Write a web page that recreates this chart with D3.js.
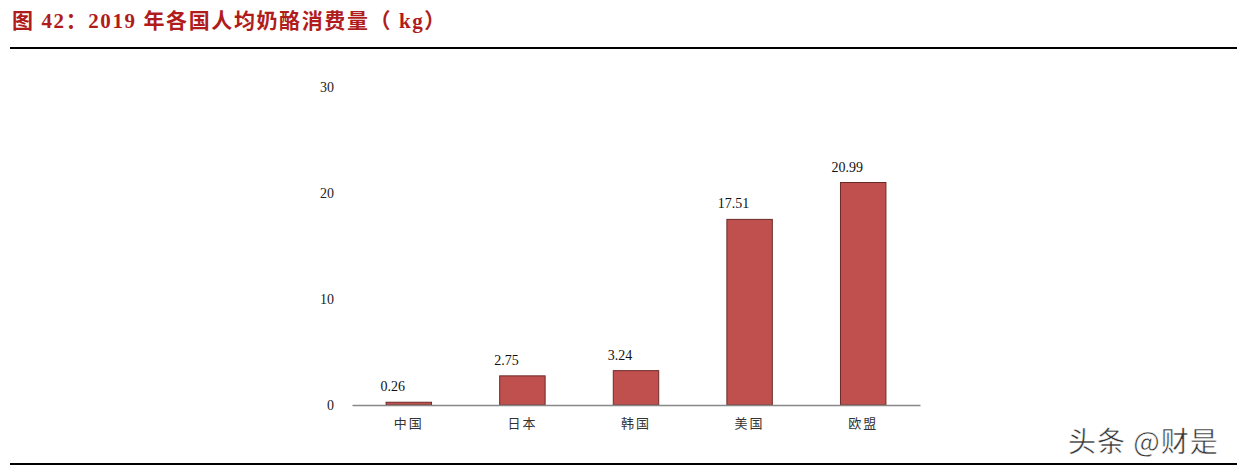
<!DOCTYPE html>
<html><head><meta charset="utf-8">
<script src="https://cdn.jsdelivr.net/npm/d3@7"></script>
<style>
body{margin:0;background:#fff;}
svg{display:block;}
</style></head>
<body>
<svg id="c" width="1247" height="470"></svg>
<script>
const categories = ["中国","日本","韩国","美国","欧盟"];
const values = [0.26, 2.75, 3.24, 17.51, 20.99];
const yTicks = [0, 10, 20, 30];
const title = "图 42：2019 年各国人均奶酪消费量（ kg）";

const svg = d3.select("#c");
svg.append("text").attr("x", 12).attr("y", 28)
  .attr("font-family", "'Liberation Serif','Noto Sans CJK SC',serif")
  .attr("font-weight", "bold").attr("font-size", 21).attr("letter-spacing", 1.6).attr("fill", "#B01C1C")
  .text(title);
svg.append("line").attr("x1", 10).attr("x2", 1237).attr("y1", 48).attr("y2", 48)
  .attr("stroke", "#000").attr("stroke-width", 2);
svg.append("line").attr("x1", 10).attr("x2", 1237).attr("y1", 464).attr("y2", 464)
  .attr("stroke", "#000").attr("stroke-width", 2);

const x = d3.scaleBand().domain(categories).range([352, 920]).paddingInner(0.6).paddingOuter(0.3);
const y = d3.scaleLinear().domain([0, 30]).range([405, 87]);

const yAxis = svg.append("g").attr("transform", "translate(352,0)")
  .call(d3.axisLeft(y).tickValues(yTicks).tickSize(0).tickPadding(18));
yAxis.select(".domain").remove();
yAxis.selectAll("text").attr("font-family", "'Liberation Serif',serif").attr("font-size", 14).attr("fill", "#222");

svg.selectAll("rect.bar").data(values).enter().append("rect")
  .attr("class", "bar")
  .attr("x", (d, i) => x(categories[i]))
  .attr("width", x.bandwidth())
  .attr("y", d => y(d))
  .attr("height", d => y(0) - y(d))
  .attr("fill", "#C0504D").attr("stroke", "#6B2A28").attr("stroke-width", 1);

svg.selectAll("text.val").data(values).enter().append("text")
  .attr("class", "val")
  .attr("x", (d, i) => x(categories[i]) + x.bandwidth() / 2 - 16)
  .attr("y", d => y(d) - 11)
  .attr("text-anchor", "middle")
  .attr("font-family", "'Liberation Serif',serif").attr("font-size", 14).attr("fill", "#111")
  .text(d => d.toFixed(2));

const xAxis = svg.append("g").attr("transform", "translate(0,405)")
  .call(d3.axisBottom(x).tickSize(0).tickPadding(14));
xAxis.select(".domain").attr("stroke", "#888").attr("stroke-width", 1.5);
xAxis.selectAll("text").attr("font-family", "'Noto Sans CJK SC',sans-serif").attr("font-size", 13)
  .attr("letter-spacing", 2).attr("fill", "#333");

svg.append("text").attr("x", 1068).attr("y", 452)
  .attr("font-family", "'Noto Sans CJK SC',sans-serif").attr("font-size", 28).attr("letter-spacing", 1)
  .attr("fill", "#333").attr("stroke", "#fff").attr("stroke-width", 0.5)
  .text("头条 @财是");
</script>
</body></html>
